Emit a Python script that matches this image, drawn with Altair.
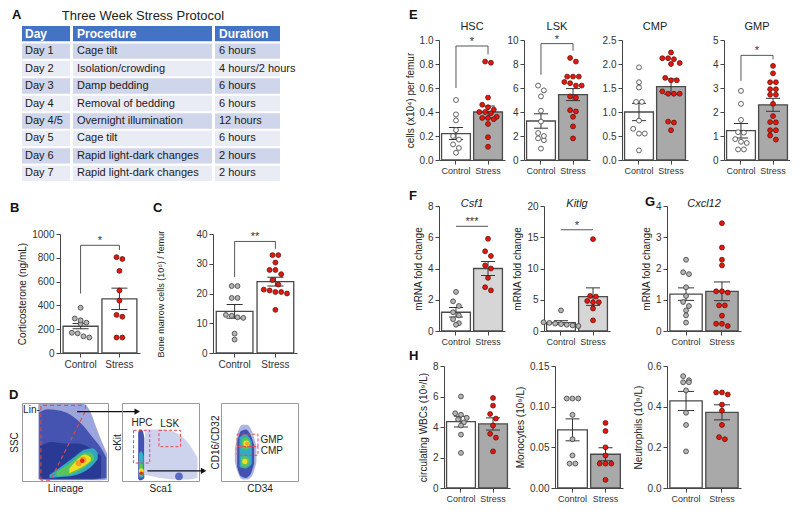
import altair as alt
import pandas as pd

FONT = "Liberation Sans"
RED = "#e8170d"
GATE = "#e5484d"
INK = "#333333"
GROUPS = ["Control", "Stress"]

# ---------------- Panel A : protocol table ----------------
table_header = ["Day", "Procedure", "Duration"]
table_days = ["Day 1", "Day 2", "Day 3", "Day 4", "Day 4/5", "Day 5", "Day 6", "Day 7"]
table_procedures = ["Cage tilt", "Isolation/crowding", "Damp bedding", "Removal of bedding",
                    "Overnight illumination", "Cage tilt", "Rapid light-dark changes",
                    "Rapid light-dark changes"]
table_durations = ["6 hours", "4 hours/2 hours", "6 hours", "6 hours", "12 hours",
                   "6 hours", "2 hours", "2 hours"]

# ---------------- Panel B : corticosterone (ng/mL) ----------------
cort_control = [380, 290, 255, 245, 275, 170, 130, 140, 165]
cort_stress = [805, 790, 690, 525, 440, 320, 305, 130, 130]
cort_mean = [225, 455]
cort_sem = [22, 90]
cort_bracket = [500, 905, 865]

# ---------------- Panel C : bone marrow cells ----------------
bm_control = [22.5, 22.5, 18.5, 18.5, 12.8, 12.0, 11.8, 12.5, 6.5, 4.5]
bm_stress = [32.9, 32.9, 30.4, 27.9, 27.9, 26.5, 24.5, 23.0, 21.3, 20.5, 20.0, 20.5, 21.0, 14.5]
bm_mean = [14.0, 24.0]
bm_sem = [2.3, 1.5]
bm_bracket = [25.5, 37.5, 35.0]

# ---------------- Panel E ----------------
hsc_control = [0.50, 0.38, 0.33, 0.25, 0.20, 0.17, 0.13, 0.10, 0.06]
hsc_stress = [0.82, 0.81, 0.52, 0.46, 0.44, 0.42, 0.40, 0.40, 0.39, 0.36, 0.35, 0.34, 0.35, 0.30, 0.19, 0.11]
hsc_mean = [0.22, 0.40]
hsc_sem = [0.05, 0.05]
hsc_bracket = [0.60, 0.95, 0.88]

lsk_control = [6.2, 5.8, 5.3, 4.1, 3.2, 2.25, 1.8, 1.65, 2.0, 0.95]
lsk_stress = [8.2, 8.5, 6.95, 6.95, 6.95, 6.4, 6.2, 6.2, 6.5, 5.3, 5.2, 4.15, 4.05, 3.6, 2.8, 1.8]
lsk_mean = [3.25, 5.45]
lsk_sem = [0.6, 0.5]
lsk_bracket = [7.1, 9.7, 9.1]

cmp_control = [1.93, 1.62, 1.51, 1.21, 1.21, 0.82, 0.65, 0.55, 0.55, 0.20]
cmp_stress = [2.24, 2.12, 2.10, 2.12, 2.00, 2.02, 1.66, 1.66, 1.71, 1.38, 1.38, 1.38, 1.43, 0.80, 0.78, 0.62]
cmp_mean = [1.00, 1.53]
cmp_sem = [0.18, 0.16]

gmp_control = [2.88, 2.34, 1.67, 1.14, 1.16, 0.87, 0.71, 0.76, 0.44, 0.44]
gmp_stress = [3.92, 3.61, 3.24, 3.24, 2.95, 2.95, 2.72, 2.72, 2.34, 1.83, 1.58, 1.57, 1.24, 1.24, 1.02, 0.85]
gmp_mean = [1.22, 2.30]
gmp_sem = [0.30, 0.27]
gmp_bracket = [3.3, 4.36, 4.2]

# ---------------- Panel F / G : mRNA fold change ----------------
csf1_control = [2.5, 1.9, 1.6, 1.2, 1.0, 0.75, 0.5, 0.4]
csf1_stress = [5.9, 5.1, 4.8, 4.2, 4.0, 3.4, 2.8, 2.6]
csf1_mean = [1.2, 4.0]
csf1_sem = [0.3, 0.45]
csf1_line = 6.7

kitlg_control = [3.3, 1.4, 1.2, 1.0, 0.8, 0.9, 1.3, 1.1]
kitlg_stress = [14.7, 5.6, 5.5, 4.6, 4.6, 4.8, 3.6, 1.7]
kitlg_mean = [1.35, 5.5]
kitlg_sem = [0.3, 1.4]
kitlg_line = 16.2

cxcl12_control = [2.28, 1.88, 1.82, 1.40, 1.12, 0.93, 0.80, 0.66, 0.50, 0.27]
cxcl12_stress = [3.45, 2.67, 2.28, 2.10, 1.27, 1.23, 1.27, 0.82, 0.82, 0.49, 0.16, 0.23, 0.23]
cxcl12_mean = [1.18, 1.27]
cxcl12_sem = [0.20, 0.30]

# ---------------- Panel H : blood counts (10^9/L) ----------------
wbc_control = [6.0, 4.9, 4.8, 4.6, 4.5, 4.3, 4.1, 3.5, 2.3]
wbc_stress = [5.9, 5.4, 4.85, 4.55, 4.1, 3.55, 3.3, 2.4]
wbc_mean = [4.35, 4.2]
wbc_sem = [0.35, 0.4]

mono_control = [0.11, 0.11, 0.11, 0.09, 0.06, 0.04, 0.03, 0.03]
mono_stress = [0.08, 0.07, 0.05, 0.04, 0.03, 0.03, 0.03, 0.01]
mono_mean = [0.0715, 0.0415]
mono_sem = [0.0135, 0.008]

neut_control = [0.53, 0.52, 0.52, 0.55, 0.48, 0.37, 0.31, 0.18]
neut_stress = [0.47, 0.46, 0.47, 0.41, 0.38, 0.31, 0.24, 0.25]
neut_mean = [0.428, 0.372]
neut_sem = [0.047, 0.037]

# ---------------- Panel D : flow cytometry density outlines (percent of axis range) ----------------
LIGHT_D, MID_D, DARK_D = "#5b6bc4", "#3040a5", "#22338f"
CYAN_D, GREEN_D, YEL_D, ORA_D, RED_D = "#33b5c4", "#5cc456", "#f0de24", "#f4a022", "#e2261a"
lineage_regions = [
    (LIGHT_D, 0.6, [(19, 99, 2), (30, 99, 1), (50, 99, 1), (70, 99, 1), (78, 92, 1),
                    (86, 70, 1), (93, 50, 1), (99, 35, 2)]),
    (MID_D, 0.8, [(20, 88, 3), (30, 92, 2), (45, 90, 2), (60, 82, 2), (72, 70, 2),
                  (82, 56, 2), (92, 42, 3), (98, 30, 4)]),
    (DARK_D, 0.8, [(21, 45, 3), (35, 50, 3), (50, 48, 3), (65, 48, 3), (80, 42, 3), (92, 32, 4)]),
    (CYAN_D, 0.9, [(32, 8, 4), (45, 18, 5), (60, 30, 7), (72, 40, 12), (82, 42, 20), (88, 36, 28)]),
    (GREEN_D, 0.95, [(40, 12, 6), (55, 22, 8), (68, 34, 14), (78, 37, 22), (84, 32, 28)]),
    (YEL_D, 1.0, [(55, 16, 10), (65, 28, 15), (73, 34, 20), (80, 30, 26)]),
]
lineage_spots = [(66, 23, 40, ORA_D), (71, 27, 45, ORA_D), (70, 26, 20, RED_D)]
ckit_regions = [
    (LIGHT_D, 0.3, [(30, 66, 8), (50, 66, 4), (70, 62, 2), (85, 50, 2), (98, 30, 4)]),
    (MID_D, 0.9, [(21, 62, 3), (23, 66, 1), (25, 66, 1), (27, 64, 2), (29, 55, 4)]),
    (CYAN_D, 0.95, [(22, 35, 6), (25, 38, 4), (28, 32, 6)]),
    (GREEN_D, 1.0, [(23, 22, 8), (25, 24, 6), (27, 20, 8)]),
]
ckit_spots = [(74, 6, 60, LIGHT_D), (25, 13, 25, YEL_D), (25, 10, 12, RED_D)]
cd_regions = [
    (LIGHT_D, 0.5, [(18, 40, 24), (23, 66, 8), (28, 72, 2), (34, 72, 2), (40, 64, 6), (46, 44, 24)]),
    (MID_D, 0.85, [(21, 50, 18), (26, 64, 6), (32, 66, 4), (38, 60, 8), (43, 46, 22)]),
    (CYAN_D, 0.9, [(24, 56, 18), (32, 60, 16), (40, 50, 22)]),
    (GREEN_D, 0.95, [(27, 54, 42), (33, 56, 40), (38, 50, 44)]),
    (GREEN_D, 0.95, [(26, 30, 20), (31, 32, 18), (37, 28, 21)]),
]
cd_spots = [(33, 48, 40, YEL_D), (31, 25, 28, YEL_D), (34, 48, 14, ORA_D)]
lin_gate = [(22, 1), (22, 97), (74, 97), (73, 88), (33, 1), (22, 1)]
ckit_gates = [(15, 36, 23, 65), (48, 76, 44, 65)]
cd_gates = [(21, 48, 44, 60), (21, 48, 33, 44)]
lin_labels = [("Lin-", 11, 91)]
ckit_labels = [("HPC", 26, 75), ("LSK", 62, 73)]
cd_labels = [("GMP", 66, 53), ("CMP", 66, 38)]
lin_arrow = (64, 134, 89)
ckit_arrow = (33, 106, 13)


# ---------------- helpers ----------------
def swarm(vals, ppu, d=5.8):
    idx = sorted(range(len(vals)), key=lambda i: -vals[i])
    offs = [0.0] * len(vals)
    clusters, cur = [], []
    for i in idx:
        if cur and (vals[cur[0]] - vals[i]) * ppu > d * 0.85:
            clusters.append(cur)
            cur = []
        cur.append(i)
    if cur:
        clusters.append(cur)
    for c in clusters:
        m = len(c)
        for j, i in enumerate(c):
            offs[i] = (j - (m - 1) / 2) * d
    return offs


def letter_layer(letter, lx, ly):
    return alt.Chart(pd.DataFrame({"k": [0]})).mark_text(
        align="left", baseline="top", fontSize=13, fontWeight="bold", color="#111"
    ).encode(x=alt.value(lx), y=alt.value(ly), text=alt.value(letter))


def label_layer(text, lx, ly, size=11, italic=False):
    return alt.Chart(pd.DataFrame({"k": [0]})).mark_text(
        align="center", baseline="middle", fontSize=size, color="#222",
        fontStyle="italic" if italic else "normal"
    ).encode(x=alt.value(lx), y=alt.value(ly), text=alt.value(text))


def spacer(w, h):
    return alt.Chart(pd.DataFrame({"k": [0]})).mark_rule(opacity=0, strokeWidth=0).encode(
        x=alt.value(0), y=alt.value(0), y2=alt.value(0)).properties(width=w, height=h)


def bar_panel(ctrl, stress, means, sems, top, ticks, fmt, width, height,
              ytitle=None, ytitle_size=10, ytitle_pad=4, title=None, italic=False, title_y=-13,
              stress_fill="#ffffff", ctrl_fill="#b5b5b5", bracket=None, hline=None,
              stars=None, letter=None, cap=14, xlabel_size=10):
    pi, po = 0.1, 0.08
    step = width / (2 - pi + 2 * po)
    bw = step * (1 - pi)
    ppu = height / top
    prow = []
    for g, vals, fill, stroke in (("Control", ctrl, ctrl_fill, "#3c3c3c"),
                                  ("Stress", stress, RED, "#5a120c")):
        for v, o in zip(vals, swarm(vals, ppu)):
            prow.append({"group": g, "value": v, "off": bw / 2 + o, "fill": fill, "stroke": stroke})
    pts = pd.DataFrame(prow)
    bars = pd.DataFrame({
        "group": GROUPS, "mean": means,
        "lo": [m - s for m, s in zip(means, sems)],
        "hi": [m + s for m, s in zip(means, sems)],
        "fill": ["#ffffff", stress_fill],
    })
    X = alt.X("group:N", scale=alt.Scale(domain=GROUPS, paddingInner=pi, paddingOuter=po),
              axis=alt.Axis(title=None, labelAngle=0, labelFontSize=xlabel_size))
    ys = alt.Scale(domain=[0, top], nice=False, zero=True)
    ya = alt.Axis(values=ticks, format=fmt, title=ytitle, titleFontSize=ytitle_size,
                  titlePadding=ytitle_pad)

    def Y(f):
        return alt.Y(f, type="quantitative", scale=ys, axis=ya)

    layers = [
        alt.Chart(bars).mark_bar(stroke="#4a4a4a", strokeWidth=1.3).encode(
            x=X, y=Y("mean"), fill=alt.Fill("fill:N", scale=None)),
        alt.Chart(bars).mark_rule(color=INK, strokeWidth=1).encode(x=X, y=Y("lo"), y2="hi:Q"),
        alt.Chart(bars).mark_tick(orient="horizontal", size=cap, thickness=1, color=INK,
                                  opacity=1).encode(x=X, y=Y("hi")),
        alt.Chart(bars).mark_tick(orient="horizontal", size=cap, thickness=1, color=INK,
                                  opacity=1).encode(x=X, y=Y("lo")),
        alt.Chart(pts).mark_point(filled=True, size=24, strokeWidth=0.8, opacity=1).encode(
            x=X, xOffset=alt.XOffset("off:Q", scale=None), y=Y("value"),
            fill=alt.Fill("fill:N", scale=None), stroke=alt.Stroke("stroke:N", scale=None)),
    ]
    star_y = None
    if bracket is not None:
        lo_c, top_y, lo_s = bracket
        br = pd.DataFrame({"group": ["Control", "Control", "Stress", "Stress"],
                           "y": [lo_c, top_y, top_y, lo_s], "o": [0, 1, 2, 3]})
        layers.append(alt.Chart(br).mark_line(color="#444", strokeWidth=0.9).encode(
            x=X, y=Y("y"), order="o:Q"))
        star_y = top_y
    if hline is not None:
        br = pd.DataFrame({"group": GROUPS, "y": [hline, hline], "o": [0, 1]})
        layers.append(alt.Chart(br).mark_line(color="#444", strokeWidth=0.9).encode(
            x=X, y=Y("y"), order="o:Q"))
        star_y = hline
    if stars is not None:
        sdf = pd.DataFrame({"group": ["Control"], "y": [star_y], "t": [stars]})
        layers.append(alt.Chart(sdf).mark_text(dx=step / 2, dy=-1, baseline="alphabetic",
                                               fontSize=11, color=INK).encode(
            x=X, y=Y("y"), text="t:N"))
    if title is not None:
        layers.append(label_layer(title, width / 2, title_y, 11, italic))
    if letter is not None:
        layers.append(letter_layer(*letter))
    return alt.layer(*layers).properties(width=width, height=height)


def flow_panel(regions, spots, width, height, xtitle, ytitle, ypad, gate_path=None,
               gate_boxes=None, labels=None, arrow=None, letter=None):
    sx = alt.Scale(domain=[0, 100], nice=False, zero=False)
    sy = alt.Scale(domain=[0, 100], nice=False, zero=False)
    ax = alt.Axis(title=xtitle, labels=False, ticks=False, domain=False, grid=False, titlePadding=2)
    ay = alt.Axis(title=ytitle, labels=False, ticks=False, domain=False, grid=False, titlePadding=ypad)

    def X(f):
        return alt.X(f, type="quantitative", scale=sx, axis=ax)

    def Y(f):
        return alt.Y(f, type="quantitative", scale=sy, axis=ay, stack=None)

    layers = []
    for colour, op, pts in regions:
        df = pd.DataFrame(pts, columns=["x", "hi", "lo"])
        layers.append(alt.Chart(df).mark_area(color=colour, opacity=op, interpolate="monotone",
                                              clip=True).encode(
            x=X("x"), y=Y("hi"), y2="lo:Q"))
    sdf = pd.DataFrame(spots, columns=["x", "y", "s", "c"])
    layers.append(alt.Chart(sdf).mark_circle(clip=True, opacity=1).encode(
        x=X("x"), y=Y("y"), size=alt.Size("s:Q", scale=None), color=alt.Color("c:N", scale=None)))
    if gate_path:
        g = pd.DataFrame(gate_path, columns=["x", "y"])
        g["o"] = range(len(g))
        layers.append(alt.Chart(g).mark_line(strokeDash=[4, 3], color=GATE, strokeWidth=1.1).encode(
            x=X("x"), y=Y("y"), order="o:Q"))
    if gate_boxes:
        g = pd.DataFrame(gate_boxes, columns=["x1", "x2", "y1", "y2"])
        layers.append(alt.Chart(g).mark_rect(fillOpacity=0, stroke=GATE, strokeDash=[3, 2],
                                             strokeWidth=1).encode(
            x=X("x1"), x2="x2:Q", y=Y("y1"), y2="y2:Q"))
    if labels:
        t = pd.DataFrame(labels, columns=["t", "x", "y"])
        layers.append(alt.Chart(t).mark_text(fontSize=10, color="#222", align="center",
                                             baseline="middle").encode(
            x=X("x"), y=Y("y"), text="t:N"))
    if arrow:
        a = pd.DataFrame([arrow], columns=["x1", "x2", "y"])
        layers.append(alt.Chart(a).mark_rule(color="#111", strokeWidth=1.2).encode(
            x=X("x1"), x2="x2:Q", y=Y("y")))
        layers.append(alt.Chart(a).mark_point(shape="triangle-right", filled=True, size=40,
                                              color="#111", opacity=1).encode(x=X("x2"), y=Y("y")))
    if letter is not None:
        layers.append(letter_layer(*letter))
    return alt.layer(*layers).properties(
        width=width, height=height, view=alt.ViewBackground(stroke="#9a9a9a", strokeWidth=1))


# ---------------- Panel A chart ----------------
col_edges = [(0, 48), (51, 190), (193, 258)]
cells = []
body_rows = list(zip(table_days, table_procedures, table_durations))
for r, rowvals in enumerate([table_header] + body_rows):
    for c, txt in enumerate(rowvals):
        x0, x1 = col_edges[c]
        if r == 0:
            fill = "#4472c4"
        else:
            fill = "#cfd5ea" if r % 2 == 1 else "#e9ebf5"
        cells.append({"r": r, "x0": x0, "x1": x1, "tx": x0 + (3 if c == 0 else 4),
                      "t": txt, "fill": fill, "head": r == 0})
cells = pd.DataFrame(cells)
tx_scale = alt.Scale(domain=[0, 258], nice=False, zero=False)
ty = alt.Y("r:O", scale=alt.Scale(domain=list(range(9)), paddingInner=0.12, paddingOuter=0), axis=None)
tbl_rect = alt.Chart(cells).mark_rect().encode(
    x=alt.X("x0:Q", scale=tx_scale, axis=None), x2="x1:Q", y=ty, fill=alt.Fill("fill:N", scale=None))
tbl_head = alt.Chart(cells[cells["head"]]).mark_text(
    align="left", baseline="middle", fontSize=12, fontWeight="bold", color="white").encode(
    x=alt.X("tx:Q", scale=tx_scale, axis=None), y=ty, text="t:N")
tbl_body = alt.Chart(cells[~cells["head"]]).mark_text(
    align="left", baseline="middle", fontSize=11, color="#1a1a1a").encode(
    x=alt.X("tx:Q", scale=tx_scale, axis=None), y=ty, text="t:N")
panel_a = alt.layer(tbl_rect, tbl_head, tbl_body, letter_layer("A", -10, -17),
                    label_layer("Three Week Stress Protocol", 121, -10, 13)).properties(
    width=258, height=155)

# ---------------- Panels B, C ----------------
panel_b = bar_panel(cort_control, cort_stress, cort_mean, cort_sem, 1000,
                    [0, 200, 400, 600, 800, 1000], "d", 80, 119,
                    ytitle="Corticosterone (ng/mL)", bracket=cort_bracket, stars="*",
                    letter=("B", -50, -32), cap=16)
panel_c = bar_panel(bm_control, bm_stress, bm_mean, bm_sem, 40, [0, 10, 20, 30, 40], "d", 84, 119,
                    ytitle="Bone marrow cells (10\u2076) / femur", ytitle_size=9, ytitle_pad=30,
                    bracket=bm_bracket, stars="**", letter=("C", -60, -32), cap=16)
row_bc = alt.hconcat(spacer(38, 1), panel_b, spacer(73, 1), panel_c, spacing=0, bounds="flush")

# ---------------- Panel D ----------------
d1 = flow_panel(lineage_regions, lineage_spots, 86, 78, "Lineage", "SSC", 3, gate_path=lin_gate,
                labels=lin_labels, arrow=lin_arrow, letter=("D", -13, -14))
d2 = flow_panel(ckit_regions, ckit_spots, 77, 78, "Sca1", "cKit", 0, gate_boxes=ckit_gates,
                labels=ckit_labels, arrow=ckit_arrow)
d3 = flow_panel(cd_regions, cd_spots, 77, 78, "CD34", "CD16/CD32", 1, gate_boxes=cd_gates,
                labels=cd_labels)
row_d = alt.hconcat(d1, spacer(14, 1), d2, spacer(22, 1), d3, spacing=0, bounds="flush")

left = alt.vconcat(spacer(1, 1), panel_a, spacer(1, 21), row_bc, spacer(1, 19), row_d, spacing=0)

# ---------------- Panel E ----------------
HE = 120
GRAY = "#a9a9a9"
XS = 9
e1 = bar_panel(hsc_control, hsc_stress, hsc_mean, hsc_sem, 1.0, [0, 0.2, 0.4, 0.6, 0.8, 1.0], ".1f",
               66, HE, ytitle="cells (x10\u2074) per femur", title="HSC", stress_fill=GRAY,
               ctrl_fill="#ffffff", bracket=hsc_bracket, stars="*", letter=("E", -30, -31),
               xlabel_size=XS)
e2 = bar_panel(lsk_control, lsk_stress, lsk_mean, lsk_sem, 10, [0, 2, 4, 6, 8, 10], "d",
               66, HE, title="LSK", stress_fill=GRAY, ctrl_fill="#ffffff",
               bracket=lsk_bracket, stars="*", xlabel_size=XS)
e3 = bar_panel(cmp_control, cmp_stress, cmp_mean, cmp_sem, 2.5, [0, 0.5, 1.0, 1.5, 2.0, 2.5], ".1f",
               66, HE, title="CMP", stress_fill=GRAY, ctrl_fill="#ffffff", xlabel_size=XS)
e4 = bar_panel(gmp_control, gmp_stress, gmp_mean, gmp_sem, 5, [0, 1, 2, 3, 4, 5], "d",
               66, HE, title="GMP", stress_fill=GRAY, ctrl_fill="#ffffff",
               bracket=gmp_bracket, stars="*", xlabel_size=XS)
row_e = alt.hconcat(e1, spacer(19, 1), e2, spacer(32, 1), e3, spacer(36, 1), e4,
                    spacing=0, bounds="flush")

# ---------------- Panels F, G ----------------
HF = 125
f1 = bar_panel(csf1_control, csf1_stress, csf1_mean, csf1_sem, 8, [0, 2, 4, 6, 8], "d",
               66, HF, ytitle="mRNA fold change", title="Csf1", italic=True, title_y=-2,
               stress_fill="#d6d6d6", hline=csf1_line, stars="***", letter=("F", -30, -16),
               xlabel_size=XS)
f2 = bar_panel(kitlg_control, kitlg_stress, kitlg_mean, kitlg_sem, 20, [0, 5, 10, 15, 20], "d",
               66, HF, ytitle="mRNA fold change", title="Kitlg", italic=True, title_y=-2,
               stress_fill="#d6d6d6", hline=kitlg_line, stars="*", xlabel_size=XS)
g1 = bar_panel(cxcl12_control, cxcl12_stress, cxcl12_mean, cxcl12_sem, 4, [0, 1, 2, 3, 4], "d",
               74, HF, ytitle="mRNA fold change", title="Cxcl12", italic=True, title_y=-2,
               stress_fill=GRAY, letter=("G", -22, -10), cap=16, xlabel_size=XS)
row_fg = alt.hconcat(f1, spacer(39, 1), f2, spacer(57, 1), g1, spacing=0, bounds="flush")

# ---------------- Panel H ----------------
HH = 122
h1 = bar_panel(wbc_control, wbc_stress, wbc_mean, wbc_sem, 8, [0, 2, 4, 6, 8], "d",
               66, HH, ytitle="circulating WBCs (10\u2079/L)", stress_fill=GRAY,
               letter=("H", -35, -16), xlabel_size=XS)
h2 = bar_panel(mono_control, mono_stress, mono_mean, mono_sem, 0.15, [0, 0.05, 0.10, 0.15], ".2f",
               68, HH, ytitle="Monocytes (10\u2079/L)", stress_fill=GRAY, xlabel_size=XS)
h3 = bar_panel(neut_control, neut_stress, neut_mean, neut_sem, 0.6, [0, 0.2, 0.4, 0.6], ".1f",
               74, HH, ytitle="Neutrophils (10\u2079/L)", stress_fill=GRAY, cap=16, xlabel_size=XS)
row_h = alt.hconcat(spacer(5, 1), h1, spacer(45, 1), h2, spacer(44, 1), h3, spacing=0, bounds="flush")

right = alt.vconcat(spacer(1, 1), row_e, spacer(1, 15), row_fg, spacer(1, 4), row_h, spacing=0)

chart = alt.hconcat(left, right, spacing=106).properties(
    padding=0, background="white"
).configure(font=FONT).configure_view(stroke=None).configure_axis(
    domainColor="#444", tickColor="#444", labelColor="#333", titleColor="#222",
    labelFontSize=10, titleFontSize=10, titleFontWeight="normal", tickSize=4,
    labelPadding=2, titlePadding=4, grid=False, domainWidth=1, tickWidth=1
)

chart.save("out.html", embed_options={"renderer": "svg", "actions": False})
